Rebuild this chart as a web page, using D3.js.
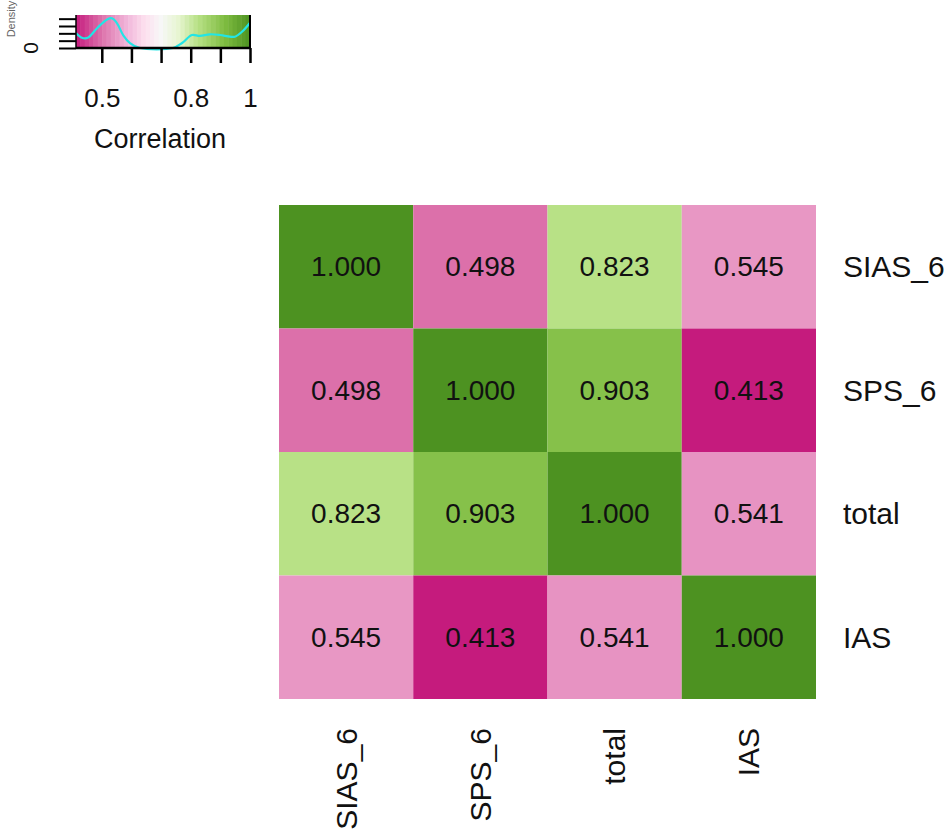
<!DOCTYPE html>
<html>
<head>
<meta charset="utf-8">
<script src="https://cdn.jsdelivr.net/npm/d3@7"></script>
<style>
  html, body { margin: 0; padding: 0; background: #fff; }
  svg { display: block; font-family: Arial, "Liberation Sans", sans-serif; }
</style>
</head>
<body>
<svg id="chart" width="950" height="834"></svg>
<script>
// ---- data ----
const rowLabels = ["SIAS_6", "SPS_6", "total", "IAS"];
const colLabels = ["SIAS_6", "SPS_6", "total", "IAS"];
const corrValues = [
  [1.000, 0.498, 0.823, 0.545],
  [0.498, 1.000, 0.903, 0.413],
  [0.823, 0.903, 1.000, 0.541],
  [0.545, 0.413, 0.541, 1.000]
];
const paletteColors = ["#c51b7d", "#de77ae", "#f1b6da", "#fde0ef", "#f7f7f7", "#e6f5d0", "#b8e186", "#7fbc41", "#4d9221"];
const paletteStops = [0.413, 0.505, 0.585, 0.645, 0.700, 0.760, 0.823, 0.915, 1.000];
const keyTicks = [0.5, 0.6, 0.7, 0.8, 0.9, 1.0];
const keyTickLabels = ["0.5", "", "", "0.8", "", "1"];
const densityX = [0.413, 0.433, 0.453, 0.484, 0.518, 0.534, 0.551, 0.572, 0.595, 0.629, 0.740, 0.771, 0.804, 0.831, 0.865, 0.899, 0.932, 0.949, 0.973, 1.000];
const densityY = [2.05, 1.40, 1.40, 2.70, 3.90, 4.05, 3.40, 1.77, 0.68, 0.00, 0.00, 0.68, 1.77, 1.64, 1.87, 1.77, 1.54, 1.54, 2.22, 3.45];
const densityTicks = [0, 1, 2, 3, 4];

// ---- setup ----
const svg = d3.select("#chart");
const color = d3.scaleLinear().domain(paletteStops).range(paletteColors).interpolate(d3.interpolateRgb).clamp(true);

// heatmap
const hm = { left: 279, right: 816, top: 205, bottom: 699 };
const x = d3.scaleBand().domain(colLabels).range([hm.left, hm.right]);
const y = d3.scaleBand().domain(rowLabels).range([hm.top, hm.bottom]);

const cells = [];
rowLabels.forEach((r, i) => colLabels.forEach((c, j) => cells.push({ r, c, v: corrValues[i][j] })));

const g = svg.append("g");
g.selectAll("rect.cell").data(cells).enter().append("rect")
  .attr("class", "cell")
  .attr("x", d => x(d.c))
  .attr("y", d => y(d.r))
  .attr("width", x.bandwidth())
  .attr("height", y.bandwidth())
  .attr("fill", d => color(d.v));

g.selectAll("text.val").data(cells).enter().append("text")
  .attr("class", "val")
  .attr("x", d => x(d.c) + x.bandwidth() / 2)
  .attr("y", d => y(d.r) + y.bandwidth() / 2)
  .attr("text-anchor", "middle")
  .attr("dominant-baseline", "central")
  .attr("font-size", 28)
  .attr("fill", "#111")
  .text(d => d.v.toFixed(3));

// row labels (right)
g.selectAll("text.rowlab").data(rowLabels).enter().append("text")
  .attr("class", "rowlab")
  .attr("x", 843)
  .attr("y", d => y(d) + y.bandwidth() / 2)
  .attr("dominant-baseline", "central")
  .attr("font-size", 30)
  .attr("fill", "#111")
  .text(d => d);

// column labels (bottom, rotated)
g.selectAll("text.collab").data(colLabels).enter().append("text")
  .attr("class", "collab")
  .attr("transform", d => `translate(${x(d) + x.bandwidth() / 2},728) rotate(-90)`)
  .attr("text-anchor", "end")
  .attr("dominant-baseline", "central")
  .attr("font-size", 30)
  .attr("fill", "#111")
  .text(d => d);

// ---- color key ----
const key = { left: 76, right: 250, top: 15, bottom: 48 };
const kx = d3.scaleLinear().domain([0.413, 1]).range([key.left, key.right]);
const ky = d3.scaleLinear().domain([0, 4.5]).range([key.bottom, key.top]);

const nBands = 40;
const bands = d3.range(nBands).map(i => {
  const a = 0.413 + (1 - 0.413) * i / nBands;
  const b = 0.413 + (1 - 0.413) * (i + 1) / nBands;
  return { a, b, m: (a + b) / 2 };
});
const kg = svg.append("g");
kg.selectAll("rect.band").data(bands).enter().append("rect")
  .attr("x", d => kx(d.a))
  .attr("y", key.top)
  .attr("width", d => kx(d.b) - kx(d.a) + 0.5)
  .attr("height", key.bottom - key.top)
  .attr("fill", d => color(d.m));

// density line
const dens = densityX.map((v, i) => [v, densityY[i]]);
kg.append("path")
  .datum(dens)
  .attr("fill", "none")
  .attr("stroke", "#22e5e5")
  .attr("stroke-width", 2.2)
  .attr("d", d3.line().x(d => kx(d[0])).y(d => ky(d[1])).curve(d3.curveCatmullRom.alpha(0.5)));

// bottom axis
const bottomAxis = d3.axisBottom(kx).tickValues(keyTicks).tickSize(15).tickFormat((d, i) => keyTickLabels[i]);
const ba = kg.append("g").attr("transform", `translate(0,${key.bottom})`).call(bottomAxis);
ba.select(".domain").attr("stroke", "#000").attr("stroke-width", 2.5).attr("d", `M${key.left},0H${key.right}`);
ba.selectAll(".tick line").attr("stroke", "#000").attr("stroke-width", 2.5);
ba.selectAll(".tick text").attr("font-size", 26).attr("fill", "#111").attr("dy", 0).attr("y", 59).attr("font-family", "Arial, 'Liberation Sans', sans-serif");

// left axis
const leftAxis = d3.axisLeft(ky).tickValues(densityTicks).tickSize(17).tickFormat(() => "");
const la = kg.append("g").attr("transform", `translate(${key.left},0)`).call(leftAxis);
la.select(".domain").attr("stroke", "#000").attr("stroke-width", 1.5).attr("d", `M0,${key.bottom}V${key.top}`);
la.selectAll(".tick line").attr("stroke", "#000").attr("stroke-width", 2);

// right edge
kg.append("line").attr("x1", key.right).attr("x2", key.right).attr("y1", key.top).attr("y2", key.bottom)
  .attr("stroke", "#000").attr("stroke-width", 2);

// "0" density label
kg.append("text")
  .attr("transform", `translate(30,${ky(0)}) rotate(-90)`)
  .attr("text-anchor", "middle")
  .attr("dominant-baseline", "central")
  .attr("font-size", 21)
  .attr("fill", "#111")
  .text("0");

// "Density" label
kg.append("text")
  .attr("transform", `translate(11,19) rotate(-90)`)
  .attr("text-anchor", "middle")
  .attr("dominant-baseline", "central")
  .attr("font-size", 11)
  .attr("fill", "#666")
  .text("Density");

// "Correlation" title
kg.append("text")
  .attr("x", 160)
  .attr("y", 148)
  .attr("text-anchor", "middle")
  .attr("font-size", 27)
  .attr("fill", "#111")
  .text("Correlation");
</script>
</body>
</html>
